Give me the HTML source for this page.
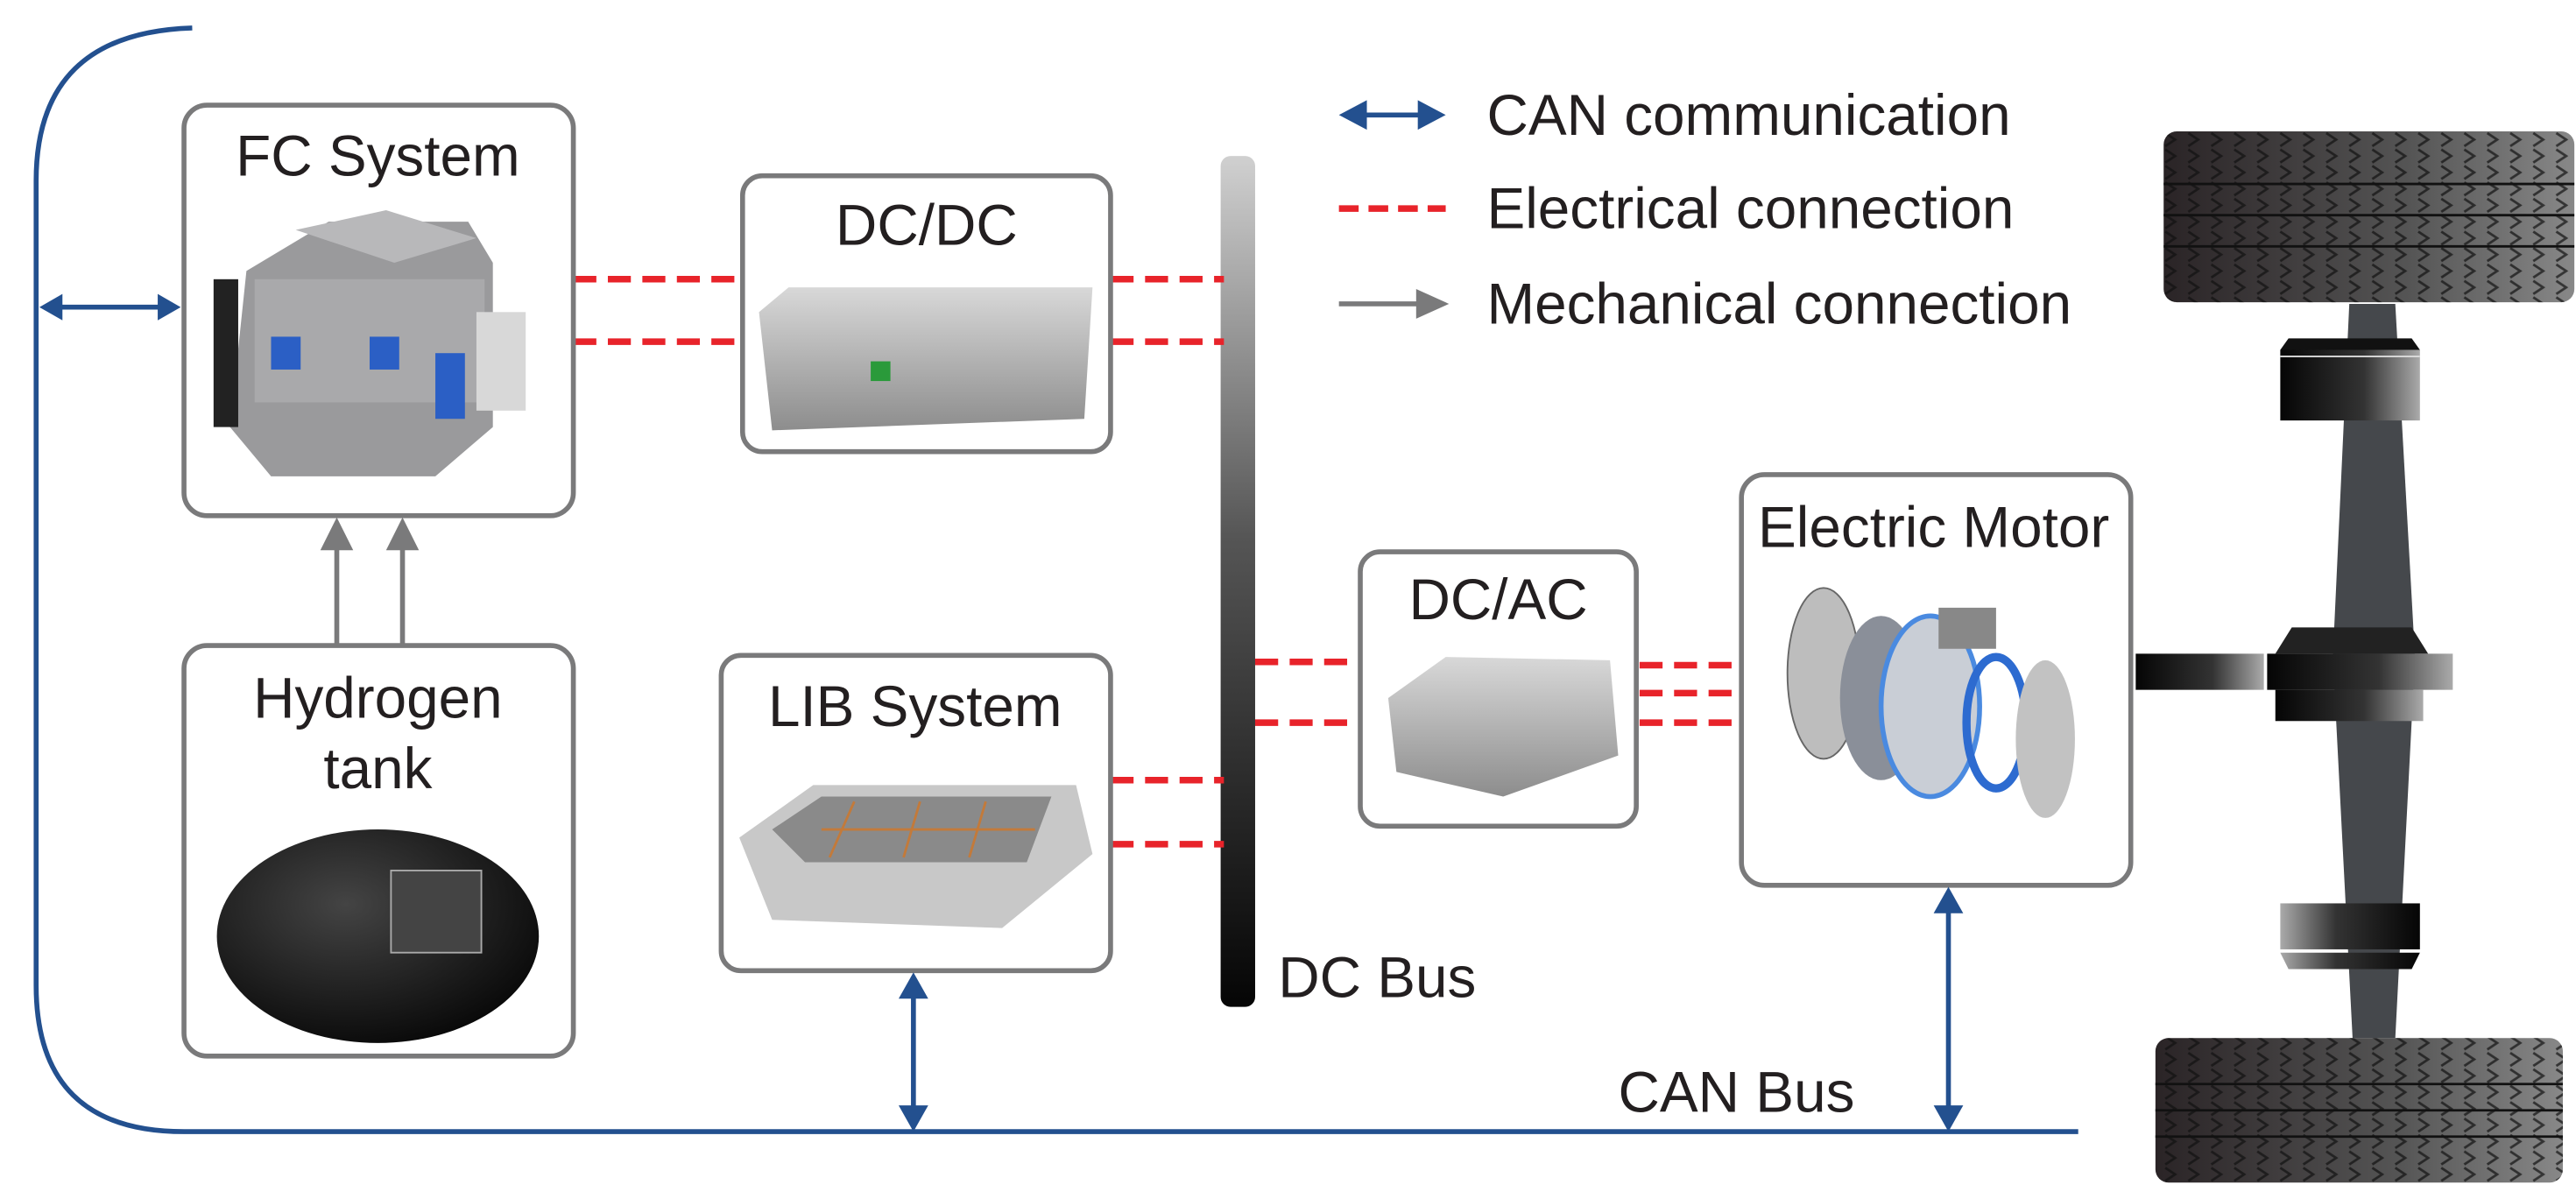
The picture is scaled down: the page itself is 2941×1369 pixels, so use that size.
<!DOCTYPE html>
<html><head><meta charset="utf-8"><style>
html,body{margin:0;padding:0;background:#fff;}
svg{display:block;}
text{font-family:"Liberation Sans",Arial,sans-serif;fill:#231f20;}
</style></head><body>
<svg width="2941" height="1369" viewBox="0 0 1568 730" preserveAspectRatio="none" xmlns="http://www.w3.org/2000/svg">
<defs>
<linearGradient id="bus" x1="0" y1="0" x2="0" y2="1"><stop offset="0" stop-color="#d0d0d0"/><stop offset="0.45" stop-color="#555"/><stop offset="1" stop-color="#050505"/></linearGradient>
<linearGradient id="hubL" x1="0" y1="0" x2="1" y2="0"><stop offset="0" stop-color="#050505"/><stop offset="0.6" stop-color="#333"/><stop offset="1" stop-color="#aaa"/></linearGradient>
<linearGradient id="hubR" x1="0" y1="0" x2="1" y2="0"><stop offset="0" stop-color="#aaa"/><stop offset="0.4" stop-color="#333"/><stop offset="1" stop-color="#050505"/></linearGradient>
<linearGradient id="tire" x1="0" y1="0" x2="1" y2="0"><stop offset="0" stop-color="#2a2426"/><stop offset="0.6" stop-color="#555"/><stop offset="1" stop-color="#888"/></linearGradient>
<pattern id="tread" width="14" height="10" patternUnits="userSpaceOnUse"><path d="M2 1 L8 5 L2 9" stroke="#111" stroke-width="1.5" fill="none"/></pattern>
<linearGradient id="metal" x1="0" y1="0" x2="0" y2="1"><stop offset="0" stop-color="#d8d8d8"/><stop offset="1" stop-color="#8d8d8d"/></linearGradient>
<radialGradient id="tank" cx="0.4" cy="0.35" r="0.7"><stop offset="0" stop-color="#444"/><stop offset="1" stop-color="#080808"/></radialGradient>
</defs>

<path d="M117 17 Q22 20 22 110 L22 600 Q22 689 112 689 L1265 689" fill="none" stroke="#23508f" stroke-width="3"/>
<line x1="34" y1="187" x2="98" y2="187" stroke="#23508f" stroke-width="3"/>
<polygon points="24,187 38,179 38,195" fill="#23508f"/>
<polygon points="110,187 96,179 96,195" fill="#23508f"/>

<rect x="743" y="95" width="21" height="518" rx="6" fill="url(#bus)"/>
<text x="778" y="607" font-size="35">DC Bus</text>

<g stroke="#e8232a" stroke-width="4" stroke-dasharray="14,7" fill="none">
<line x1="349" y1="170" x2="452" y2="170"/><line x1="349" y1="208" x2="452" y2="208"/>
<line x1="676" y1="170" x2="745" y2="170"/><line x1="676" y1="208" x2="745" y2="208"/>
<line x1="676" y1="475" x2="745" y2="475"/><line x1="676" y1="514" x2="745" y2="514"/>
<line x1="764" y1="403" x2="828" y2="403"/><line x1="764" y1="440" x2="828" y2="440"/>
<line x1="998" y1="405" x2="1060" y2="405"/><line x1="998" y1="422" x2="1060" y2="422"/><line x1="998" y1="440" x2="1060" y2="440"/>
</g>

<g stroke="#7a7a7b" stroke-width="3"><line x1="205" y1="393" x2="205" y2="330"/><line x1="245" y1="393" x2="245" y2="330"/></g>
<polygon points="205,315 195,335 215,335" fill="#7a7a7b"/>
<polygon points="245,315 235,335 255,335" fill="#7a7a7b"/>

<g fill="#fff" stroke="#7a7a7b" stroke-width="3">
<rect x="112" y="64" width="237" height="250" rx="14"/>
<rect x="112" y="393" width="237" height="250" rx="14"/>
<rect x="452" y="107" width="224" height="168" rx="12"/>
<rect x="439" y="399" width="237" height="192" rx="12"/>
<rect x="828" y="336" width="168" height="167" rx="12"/>
<rect x="1060" y="289" width="237" height="250" rx="14"/>
</g>
<g font-size="35" text-anchor="middle">
<text x="230" y="107">FC System</text>
<text x="230" y="437">Hydrogen</text>
<text x="230" y="480">tank</text>
<text x="564" y="149">DC/DC</text>
<text x="557" y="442">LIB System</text>
<text x="912" y="377">DC/AC</text>
<text x="1177" y="333">Electric Motor</text>
</g>

<g>
<polygon points="150,165 200,135 285,135 300,160 300,260 265,290 165,290 140,260" fill="#9a9a9c"/>
<polygon points="180,140 235,128 290,145 240,160" fill="#b8b8ba"/>
<rect x="155" y="170" width="140" height="75" fill="#a9a9ab"/>
<rect x="165" y="205" width="18" height="20" fill="#2b5fc5"/><rect x="225" y="205" width="18" height="20" fill="#2b5fc5"/>
<rect x="265" y="215" width="18" height="40" fill="#2b5fc5"/>
<rect x="290" y="190" width="30" height="60" fill="#d8d8d8"/>
<rect x="130" y="170" width="15" height="90" fill="#222"/>
</g>
<ellipse cx="230" cy="570" rx="98" ry="65" fill="url(#tank)"/>
<rect x="238" y="530" width="55" height="50" fill="#444" stroke="#aaa" stroke-width="1"/>
<polygon points="462,190 480,175 665,175 660,255 470,262" fill="url(#metal)"/>
<rect x="530" y="220" width="12" height="12" fill="#2a9a3a"/>
<polygon points="450,510 495,478 655,478 665,520 610,565 470,560" fill="#c8c8c8"/>
<polygon points="470,505 500,485 640,485 625,525 490,525" fill="#8a8a8a"/>
<g stroke="#c37a3a" stroke-width="1.5"><line x1="500" y1="505" x2="630" y2="505"/><line x1="520" y1="488" x2="505" y2="522"/><line x1="560" y1="488" x2="550" y2="522"/><line x1="600" y1="488" x2="590" y2="522"/></g>
<polygon points="845,425 880,400 980,402 985,460 915,485 850,470" fill="url(#metal)"/>
<ellipse cx="1110" cy="410" rx="22" ry="52" fill="#bdbdbd" stroke="#666"/>
<ellipse cx="1145" cy="425" rx="25" ry="50" fill="#8a8f99"/>
<ellipse cx="1175" cy="430" rx="30" ry="55" fill="#c9ced6" stroke="#4a8ae0" stroke-width="3"/>
<ellipse cx="1215" cy="440" rx="18" ry="40" fill="none" stroke="#2d6bd0" stroke-width="5"/>
<ellipse cx="1245" cy="450" rx="18" ry="48" fill="#c2c2c2"/>
<rect x="1180" y="370" width="35" height="25" fill="#888"/>

<g stroke="#23508f" stroke-width="3"><line x1="556" y1="605" x2="556" y2="678"/><line x1="1186" y1="553" x2="1186" y2="678"/></g>
<polygon points="556,592 547,608 565,608" fill="#23508f"/><polygon points="556,689 547,673 565,673" fill="#23508f"/>
<polygon points="1186,540 1177,556 1195,556" fill="#23508f"/><polygon points="1186,689 1177,673 1195,673" fill="#23508f"/>
<text x="985" y="677" font-size="35">CAN Bus</text>

<line x1="827" y1="70" x2="868" y2="70" stroke="#23508f" stroke-width="3"/>
<polygon points="815,70 832,61 832,79" fill="#23508f"/><polygon points="880,70 863,61 863,79" fill="#23508f"/>
<line x1="815" y1="127" x2="880" y2="127" stroke="#e8232a" stroke-width="4" stroke-dasharray="12,6"/>
<line x1="815" y1="185" x2="865" y2="185" stroke="#7a7a7b" stroke-width="3"/>
<polygon points="882,185 862,176 862,194" fill="#7a7a7b"/>
<g font-size="35"><text x="905" y="82">CAN communication</text><text x="905" y="139">Electrical connection</text><text x="905" y="197">Mechanical connection</text></g>

<polygon points="1430,185 1458,185 1470,400 1458,632 1432,632 1420,400" fill="#45484c"/>
<polygon points="1388,213 1393,206 1468,206 1473,213" fill="#111"/>
<rect x="1388" y="213" width="85" height="43" fill="url(#hubL)"/>
<line x1="1388" y1="217" x2="1473" y2="217" stroke="#ddd" stroke-width="1"/>
<polygon points="1385,398 1395,382 1468,382 1478,398" fill="#222"/>
<rect x="1380" y="398" width="113" height="22" fill="url(#hubL)"/>
<rect x="1385" y="420" width="90" height="19" fill="url(#hubL)"/>
<rect x="1300" y="398" width="78" height="22" fill="url(#hubL)"/>
<rect x="1388" y="550" width="85" height="28" fill="url(#hubR)"/>
<polygon points="1388,580 1473,580 1468,590 1393,590" fill="url(#hubR)"/>
<rect x="1317" y="80" width="250" height="104" rx="8" fill="url(#tire)"/>
<rect x="1317" y="80" width="250" height="104" rx="8" fill="url(#tread)" opacity="0.7"/>
<g stroke="#111" stroke-width="1.5"><line x1="1317" y1="112" x2="1567" y2="112"/><line x1="1317" y1="131" x2="1567" y2="131"/><line x1="1317" y1="150" x2="1567" y2="150"/></g>
<rect x="1312" y="632" width="248" height="88" rx="8" fill="url(#tire)"/>
<rect x="1312" y="632" width="248" height="88" rx="8" fill="url(#tread)" opacity="0.7"/>
<g stroke="#111" stroke-width="1.5"><line x1="1312" y1="660" x2="1560" y2="660"/><line x1="1312" y1="676" x2="1560" y2="676"/><line x1="1312" y1="692" x2="1560" y2="692"/></g>
</svg>
</body></html>
